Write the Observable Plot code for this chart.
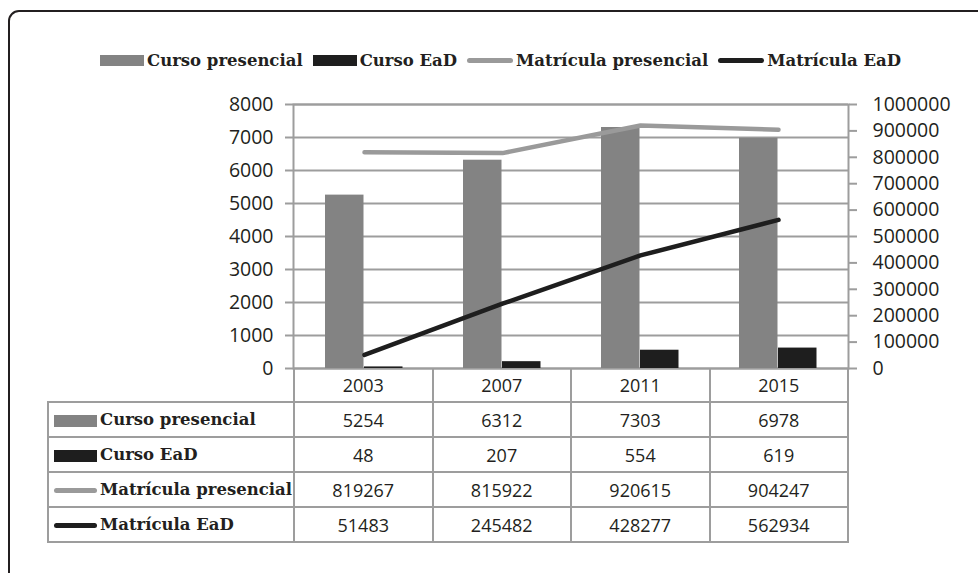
<!DOCTYPE html>
<html>
<head>
<meta charset="utf-8">
<script src="https://cdn.jsdelivr.net/npm/d3@7"></script>
<script src="https://cdn.jsdelivr.net/npm/@observablehq/plot@0.6"></script>
<style>
  html, body { margin: 0; padding: 0; background: #fff; }
  #wrap { position: relative; width: 978px; height: 573px; overflow: hidden; background: #fff; }
  #frame { position: absolute; left: 8px; top: 10px; width: 1010px; height: 620px; border: 2.5px solid #231f20; border-radius: 11px; box-sizing: border-box; }
  #legend { position: absolute; left: 100px; top: 48px; height: 24px; display: flex; align-items: center; font-family: "DejaVu Serif", serif; font-weight: bold; font-size: 16.5px; color: #231f20; white-space: nowrap; }
  .item { display: flex; align-items: center; margin-right: 10px; }
  .sw { display: inline-block; margin-right: 3px; }
  #chart { position: absolute; left: 0; top: 0; }
  #tbl { position: absolute; left: 47px; top: 368px; border-collapse: collapse; table-layout: fixed; }
  #tbl td { height: 33px; padding: 0; border: 2px solid #9d9d9d; text-align: center; font-family: "Open Sans", sans-serif; font-size: 18px; color: #231f20; }
  #tbl tr.head td { border-top: none; }
  #tbl tr.head td.blank { border: none; border-bottom: 2px solid #9d9d9d; }
  #tbl td.lab { text-align: left; font-family: "DejaVu Serif", serif; font-weight: bold; font-size: 16.5px; white-space: nowrap; }
  #tbl td.lab .sw { vertical-align: middle; margin-left: 5px; }
</style>
</head>
<body>
<div id="wrap">
  <div id="frame"></div>
  <div id="legend"></div>
  <div id="chart"></div>
  <table id="tbl"></table>
</div>
<script>
const years = ["2003", "2007", "2011", "2015"];
const cursoPresencial = [5254, 6312, 7303, 6978];
const cursoEaD = [48, 207, 554, 619];
const matriculaPresencial = [819267, 815922, 920615, 904247];
const matriculaEaD = [51483, 245482, 428277, 562934];
const leftTicks = [0, 1000, 2000, 3000, 4000, 5000, 6000, 7000, 8000];
const rightTicks = [0, 100000, 200000, 300000, 400000, 500000, 600000, 700000, 800000, 900000, 1000000];

const series = [
  {name: "Curso presencial", values: cursoPresencial, color: "#838383", type: "bar"},
  {name: "Curso EaD", values: cursoEaD, color: "#1e1e1e", type: "bar"},
  {name: "Matrícula presencial", values: matriculaPresencial, color: "#9a9a9a", type: "line"},
  {name: "Matrícula EaD", values: matriculaEaD, color: "#1e1e1e", type: "line"}
];

const ratio = 1000000 / 8000; // right axis over left axis
const rows = (vals) => years.map((y, i) => ({year: y, v: vals[i]}));

function swatch(s, w, hBar, hLine) {
  const el = document.createElement("span");
  el.className = "sw";
  el.style.width = w + "px";
  el.style.height = (s.type === "bar" ? hBar : hLine) + "px";
  if (s.type === "line") el.style.borderRadius = "2.5px";
  el.style.background = s.color;
  return el;
}

// legend
const legend = document.getElementById("legend");
series.forEach((s) => {
  const it = document.createElement("span");
  it.className = "item";
  it.appendChild(swatch(s, s.type === "bar" ? 44 : 46, 11, 5));
  it.appendChild(document.createTextNode(s.name));
  legend.appendChild(it);
});

// chart
const chart = Plot.plot({
  width: 978,
  height: 380,
  marginTop: 104,
  marginBottom: 12,
  marginLeft: 293,
  marginRight: 130,
  style: {fontFamily: "Open Sans, sans-serif", fontSize: "19px", color: "#231f20", background: "transparent"},
  x: {type: "band", domain: years, padding: 0, axis: null},
  y: {domain: [0, 8000], axis: null},
  marks: [
    Plot.ruleY(leftTicks, {stroke: "#9d9d9d", strokeWidth: 2}),
    Plot.frame({stroke: "#9d9d9d", strokeWidth: 2}),
    Plot.barY(rows(cursoPresencial), {x: "year", y: "v", fill: series[0].color, insetLeft: 30, insetRight: 69.5}),
    Plot.barY(rows(cursoEaD), {x: "year", y: "v", fill: series[1].color, insetLeft: 69, insetRight: 30.5}),
    Plot.lineY(rows(matriculaPresencial), {x: "year", y: d => d.v / ratio, stroke: series[2].color, strokeWidth: 4.5}),
    Plot.lineY(rows(matriculaEaD), {x: "year", y: d => d.v / ratio, stroke: series[3].color, strokeWidth: 4.5}),
    Plot.axisY({anchor: "left", ticks: leftTicks, tickFormat: d => String(d), tickSize: 8, tickPadding: 12, stroke: "#9d9d9d", strokeWidth: 2, fill: "#231f20", fontSize: 19.5, label: null}),
    Plot.axisY({anchor: "right", ticks: rightTicks.map(t => t / ratio), tickFormat: d => String(Math.round(d * ratio)), tickSize: 8, tickPadding: 16, stroke: "#9d9d9d", strokeWidth: 2, fill: "#231f20", fontSize: 19.5, label: null})
  ]
});
document.getElementById("chart").appendChild(chart);

// data table
const tbl = document.getElementById("tbl");
const colgroup = document.createElement("colgroup");
[246, 138.5, 138.5, 138.5, 138.5].forEach(w => {
  const c = document.createElement("col"); c.style.width = w + "px"; colgroup.appendChild(c);
});
tbl.appendChild(colgroup);
const head = document.createElement("tr");
head.className = "head";
const blank = document.createElement("td"); blank.className = "blank"; head.appendChild(blank);
years.forEach(y => { const td = document.createElement("td"); td.textContent = y; head.appendChild(td); });
tbl.appendChild(head);
series.forEach(s => {
  const tr = document.createElement("tr");
  const lab = document.createElement("td");
  lab.className = "lab";
  lab.appendChild(swatch(s, 43, 12, 5));
  lab.appendChild(document.createTextNode(s.name));
  tr.appendChild(lab);
  s.values.forEach(v => { const td = document.createElement("td"); td.textContent = v; tr.appendChild(td); });
  tbl.appendChild(tr);
});
</script>
</body>
</html>
